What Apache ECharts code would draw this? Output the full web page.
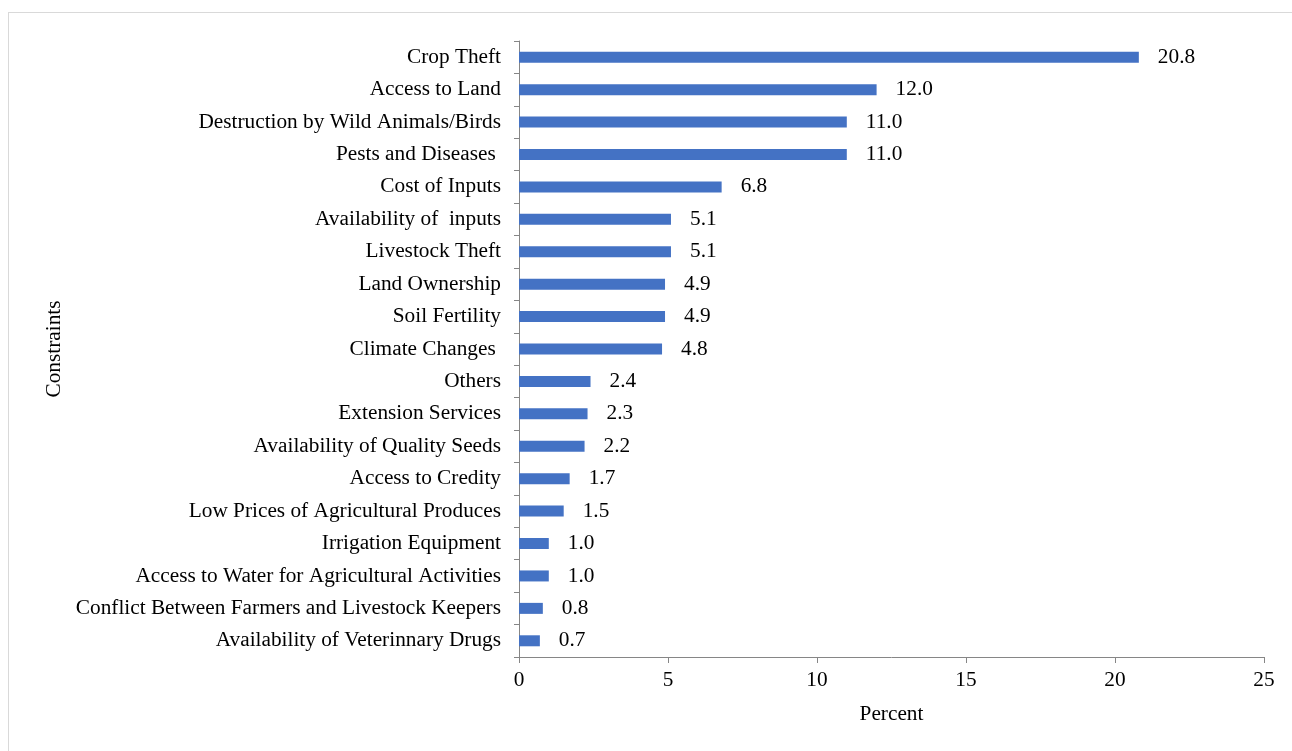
<!DOCTYPE html>
<html>
<head>
<meta charset="utf-8">
<script src="https://cdn.jsdelivr.net/npm/echarts@6/dist/echarts.min.js"></script>
<style>
  html, body { margin: 0; padding: 0; background: #fff; }
  #frame { position: absolute; left: 8px; top: 12px; width: 1400px; height: 800px; border: 1px solid #d9d9d9; }
  #main { position: absolute; left: 0; top: 0; width: 1292px; height: 751px; }
</style>
</head>
<body>
<div id="frame"></div>
<div id="main"></div>
<script>
var categories = [
  'Crop Theft',
  'Access to Land',
  'Destruction by Wild Animals/Birds',
  'Pests and Diseases ',
  'Cost of Inputs',
  'Availability of  inputs',
  'Livestock Theft',
  'Land Ownership',
  'Soil Fertility',
  'Climate Changes ',
  'Others',
  'Extension Services',
  'Availability of Quality Seeds',
  'Access to Credity',
  'Low Prices of Agricultural Produces',
  'Irrigation Equipment',
  'Access to Water for Agricultural Activities',
  'Conflict Between Farmers and Livestock Keepers',
  'Availability of Veterinnary Drugs'
]
var percent = [20.8, 12.0, 11.0, 11.0, 6.8, 5.1, 5.1, 4.9, 4.9, 4.8, 2.4, 2.3, 2.2, 1.7, 1.5, 1.0, 1.0, 0.8, 0.7]
var xTicks = [0, 5, 10, 15, 20, 25]

var font = 'Liberation Serif, Times New Roman, serif'
var fs = 21.3
var axisColor = '#868686'

var myChart = echarts.init(document.getElementById('main'))
myChart.setOption({
  animation: false,
  textStyle: { fontFamily: font, color: '#000' },
  grid: { left: 519, right: 28, top: 41, bottom: 94 },
  xAxis: {
    type: 'value',
    min: xTicks[0],
    max: xTicks[xTicks.length - 1],
    interval: 5,
    name: 'Percent',
    nameLocation: 'middle',
    nameGap: 47,
    nameTextStyle: { fontFamily: font, fontSize: fs, color: '#000' },
    splitLine: { show: false },
    axisLine: { show: true, lineStyle: { color: axisColor, width: 1 } },
    axisTick: { show: true, length: 6, lineStyle: { color: axisColor } },
    axisLabel: { fontFamily: font, fontSize: fs, color: '#000', margin: 13 }
  },
  yAxis: {
    type: 'category',
    data: categories,
    inverse: true,
    name: 'Constraints',
    nameLocation: 'middle',
    nameGap: 452,
    nameRotate: 90,
    nameTextStyle: { fontFamily: font, fontSize: fs, color: '#000' },
    axisLine: { show: true, lineStyle: { color: axisColor, width: 1 } },
    axisTick: { show: true, length: 5, lineStyle: { color: axisColor } },
    axisLabel: { fontFamily: font, fontSize: fs, color: '#000', margin: 18, padding: [3, 0, 0, 0] }
  },
  series: [{
    type: 'bar',
    data: percent,
    barWidth: 11,
    itemStyle: { color: '#4472C4' },
    label: {
      show: true,
      position: 'right',
      distance: 19,
      padding: [3, 0, 0, 0],
      fontFamily: font,
      fontSize: fs,
      color: '#000',
      formatter: function (p) { return p.value.toFixed(1) }
    }
  }]
})
</script>
</body>
</html>
